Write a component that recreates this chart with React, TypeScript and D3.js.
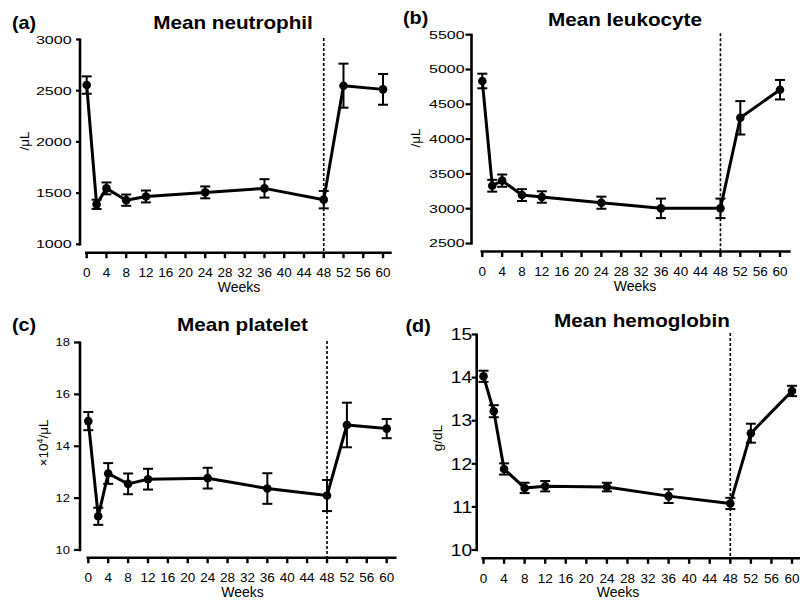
import React from "react";
import * as d3 from "d3";

const weeks = [0, 2, 4, 8, 12, 24, 36, 48, 52, 60];
const weekTicks = [0, 4, 8, 12, 16, 20, 24, 28, 32, 36, 40, 44, 48, 52, 56, 60];
const stopWeek = 48;

const neutrophilMean = [2555, 1390, 1546, 1431, 1467, 1507, 1546, 1436, 2549, 2513];
const neutrophilSem = [85, 45, 58, 55, 58, 58, 90, 85, 215, 150];
const neutrophilTicks = [1000, 1500, 2000, 2500, 3000];

const leukocyteMean = [4835, 3330, 3403, 3196, 3168, 3086, 3005, 3005, 4306, 4710];
const leukocyteSem = [105, 85, 88, 85, 82, 87, 140, 140, 240, 140];
const leukocyteTicks = [2500, 3000, 3500, 4000, 4500, 5000, 5500];

const plateletMean = [14.97, 11.3, 12.95, 12.55, 12.73, 12.77, 12.37, 12.1, 14.82, 14.68];
const plateletSem = [0.35, 0.33, 0.4, 0.4, 0.4, 0.4, 0.59, 0.6, 0.86, 0.37];
const plateletTicks = [10, 12, 14, 16, 18];

const hemoglobinMean = [14.03, 13.22, 11.88, 11.44, 11.48, 11.46, 11.25, 11.08, 12.71, 13.69];
const hemoglobinSem = [0.13, 0.14, 0.13, 0.12, 0.12, 0.1, 0.16, 0.13, 0.22, 0.12];
const hemoglobinTicks = [10, 11, 12, 13, 14, 15];

const font = "'Liberation Sans', Arial, Helvetica, sans-serif";

const panels = [
  {
    tag: "(a)", title: "Mean neutrophil", unit: "/μL",
    mean: neutrophilMean, sem: neutrophilSem, ticks: neutrophilTicks,
    yAxisX: 80, yTop: 39.5, yBot: 244.3, xAxisY: 252.7, x0: 86.7, x60: 383, xStart: 85, xEnd: 391.7,
    tagX: 12, tagY: 29, titleX: 233, titleY: 29.3, unitX: 29, unitY: 141, weeksX: 239,
    tickFont: 11.5, tickScale: 1.4, tickGap: 8.3, tickLen: 4,
  },
  {
    tag: "(b)", title: "Mean leukocyte", unit: "/μL",
    mean: leukocyteMean, sem: leukocyteSem, ticks: leukocyteTicks,
    yAxisX: 471.5, yTop: 34.7, yBot: 243.5, xAxisY: 251.5, x0: 482.3, x60: 780, xStart: 480.5, xEnd: 790.7,
    tagX: 403, tagY: 24, titleX: 625, titleY: 26, unitX: 420, unitY: 138, weeksX: 635,
    tickFont: 11, tickScale: 1.45, tickGap: 7, tickLen: 6,
  },
  {
    tag: "(c)", title: "Mean platelet", unit: "×10|4|/μL",
    mean: plateletMean, sem: plateletSem, ticks: plateletTicks,
    yAxisX: 80, yTop: 342.5, yBot: 550, xAxisY: 557.7, x0: 88.3, x60: 386.7, xStart: 86.5, xEnd: 396.5,
    tagX: 12, tagY: 331, titleX: 242.5, titleY: 331, unitX: 48, unitY: 443, weeksX: 242.5,
    tickFont: 10, tickScale: 1.3, tickGap: 10, tickLen: 6,
  },
  {
    tag: "(d)", title: "Mean hemoglobin", unit: "g/dL",
    mean: hemoglobinMean, sem: hemoglobinSem, ticks: hemoglobinTicks,
    yAxisX: 476.7, yTop: 334.5, yBot: 550, xAxisY: 558.3, x0: 483.5, x60: 792, xStart: 481.5, xEnd: 800,
    tagX: 405.5, tagY: 332, titleX: 642, titleY: 326.7, unitX: 441.5, unitY: 438, weeksX: 618,
    tickFont: 16, tickScale: 1.2, tickGap: 4.5, tickLen: 5,
  },
];

function Panel({ p }) {
  const x = d3.scaleLinear().domain([0, 60]).range([p.x0, p.x60]);
  const y = d3.scaleLinear().domain(d3.extent(p.ticks)).range([p.yBot, p.yTop]);
  const pts = weeks.map((w, i) => ({ w, m: p.mean[i], s: p.sem[i] }));
  const line = d3.line().x(d => x(d.w)).y(d => y(d.m));
  const unitParts = p.unit.split("|");

  return (
    <g fontFamily={font} fill="#000">
      <text transform={`translate(${p.tagX},${p.tagY}) scale(1.1,1)`} fontSize={18} fontWeight="bold">{p.tag}</text>
      <text transform={`translate(${p.titleX},${p.titleY}) scale(1.15,1)`} textAnchor="middle"
        fontSize={18} fontWeight="bold">{p.title}</text>

      {/* y axis */}
      <line x1={p.yAxisX} x2={p.yAxisX} y1={y.range()[1] - 1} y2={y.range()[0] + 1.2} stroke="#000" strokeWidth={2.6} />
      {p.ticks.map(t => (
        <g key={t}>
          <line x1={p.yAxisX - p.tickLen} x2={p.yAxisX} y1={y(t)} y2={y(t)} stroke="#000" strokeWidth={2.2} />
          <text transform={`translate(${p.yAxisX - p.tickGap},${y(t) + p.tickFont * 0.36}) scale(${p.tickScale},1)`}
            textAnchor="end" fontSize={p.tickFont}>{t}</text>
        </g>
      ))}
      <text transform={`translate(${p.unitX},${p.unitY}) rotate(-90)`} textAnchor="middle" fontSize={13.5}>
        {unitParts.length > 1 ? (
          <>
            {unitParts[0]}
            <tspan fontSize={9} dy={-5}>{unitParts[1]}</tspan>
            <tspan dy={5}>{unitParts[2]}</tspan>
          </>
        ) : p.unit}
      </text>

      {/* x axis */}
      <line x1={p.xStart} x2={p.xEnd} y1={p.xAxisY} y2={p.xAxisY} stroke="#000" strokeWidth={2.6} />
      {weekTicks.map(t => (
        <g key={t}>
          <line x1={x(t)} x2={x(t)} y1={p.xAxisY} y2={p.xAxisY + 5.5} stroke="#000" strokeWidth={2.4} />
          <text x={x(t)} y={p.xAxisY + 24.6} textAnchor="middle" fontSize={13.5}>{t}</text>
        </g>
      ))}
      <text x={p.weeksX} y={p.xAxisY + 39} textAnchor="middle" fontSize={14}>Weeks</text>

      {/* end of treatment */}
      <line x1={x(stopWeek)} x2={x(stopWeek)} y1={y.range()[1] - 1.5} y2={p.xAxisY} stroke="#000"
        strokeWidth={1.6} strokeDasharray="3,2" />

      <path d={line(pts)} fill="none" stroke="#000" strokeWidth={3} strokeLinejoin="round" />
      {pts.map(d => (
        <g key={d.w} stroke="#000" strokeWidth={2}>
          <line x1={x(d.w)} x2={x(d.w)} y1={y(d.m - d.s)} y2={y(d.m + d.s)} />
          <line x1={x(d.w) - 5} x2={x(d.w) + 5} y1={y(d.m - d.s)} y2={y(d.m - d.s)} />
          <line x1={x(d.w) - 5} x2={x(d.w) + 5} y1={y(d.m + d.s)} y2={y(d.m + d.s)} />
          <circle cx={x(d.w)} cy={y(d.m)} r={4.3} fill="#000" stroke="none" />
        </g>
      ))}
    </g>
  );
}

export default function App() {
  return (
    <svg width={801} height={601} style={{ position: "absolute", left: 0, top: 0, background: "#fff" }}>
      <rect width={801} height={601} fill="#fff" />
      {panels.map(p => <Panel key={p.tag} p={p} />)}
    </svg>
  );
}
